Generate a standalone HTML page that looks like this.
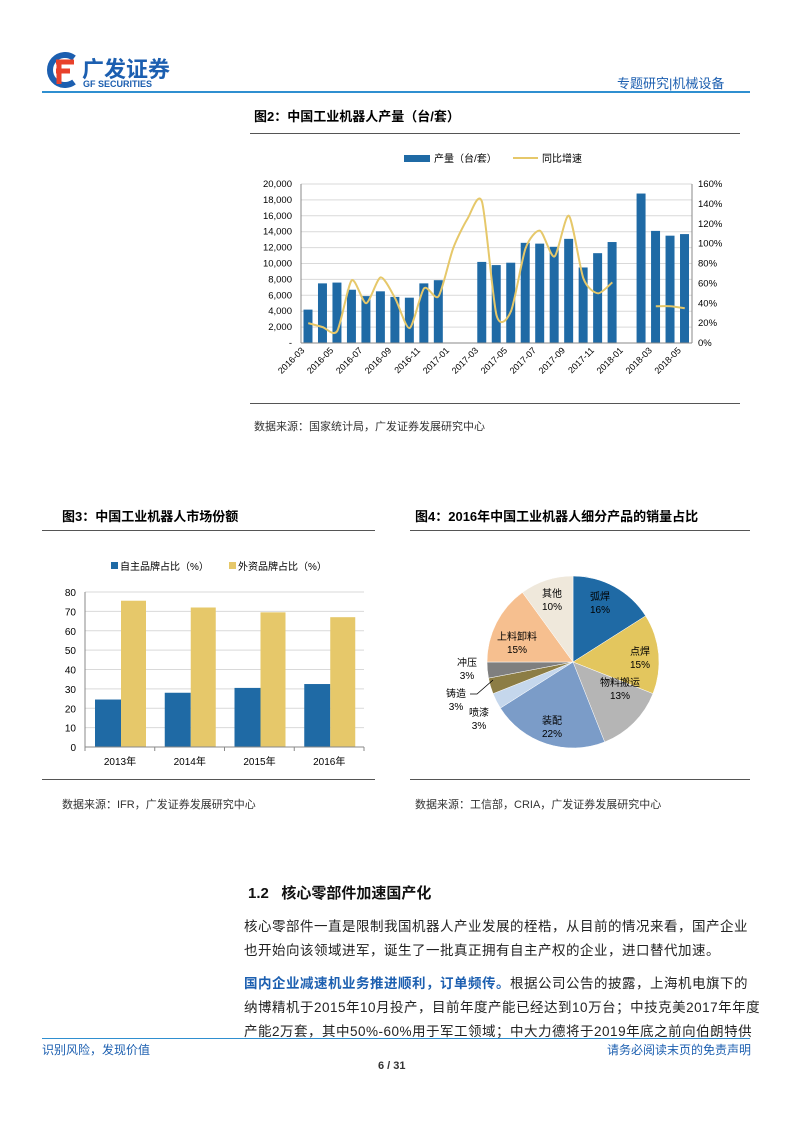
<!DOCTYPE html>
<html><head><meta charset="utf-8"><style>
body{margin:0;background:#fff;font-family:"Liberation Sans","Noto Sans CJK SC",sans-serif;}
#p{position:relative;width:793px;height:1122px;overflow:hidden;}
.a{position:absolute;white-space:nowrap;}
.t{font-weight:bold;font-size:13px;color:#000;}
.s{font-size:11px;color:#333;}
.b{font-size:13.5px;color:#222;letter-spacing:0.5px;}
</style></head><body><div id="p">
<svg class="a" style="left:44px;top:52px" width="36" height="36" viewBox="0 0 36 36">
<path d="M30 6 A15 15 0 1 0 30 30" stroke="#1c5fb0" stroke-width="6" fill="none"/>
<path d="M12 10 H30 M12 19 H26 M15 10 V32" stroke="#e8412b" stroke-width="5" fill="none"/></svg>
<div class="a" style="left:82px;top:52px;font-size:22px;font-weight:bold;color:#1c5fb0;">广发证券</div>
<div class="a" style="left:83px;top:79px;font-size:9px;font-weight:bold;color:#1c5fb0;">GF SECURITIES</div>
<div class="a" style="left:42px;top:91px;width:708px;height:1.5px;background:#2f8fd0"></div>
<div class="a" style="left:617px;top:73px;font-size:13px;color:#1c5fb0;">专题研究|机械设备</div>

<div class="a t" style="left:254px;top:106px">图2：中国工业机器人产量（台/套）</div>
<div class="a" style="left:250px;top:133px;width:490px;height:1px;background:#555"></div>
<div class="a" style="left:250px;top:403px;width:490px;height:1px;background:#555"></div>
<div class="a s" style="left:254px;top:418px">数据来源：国家统计局，广发证券发展研究中心</div>
<svg class="a" id="c1" style="left:0;top:0" width="793" height="420"></svg>

<div class="a t" style="left:62px;top:506px">图3：中国工业机器人市场份额</div>
<div class="a t" style="left:415px;top:506px">图4：2016年中国工业机器人细分产品的销量占比</div>
<div class="a" style="left:42px;top:530px;width:333px;height:1px;background:#555"></div>
<div class="a" style="left:410px;top:530px;width:340px;height:1px;background:#555"></div>
<div class="a" style="left:42px;top:779px;width:333px;height:1px;background:#555"></div>
<div class="a" style="left:410px;top:779px;width:340px;height:1px;background:#555"></div>
<div class="a s" style="left:62px;top:796px">数据来源：IFR，广发证券发展研究中心</div>
<div class="a s" style="left:415px;top:796px">数据来源：工信部，CRIA，广发证券发展研究中心</div>
<svg class="a" id="c2" style="left:0;top:540px" width="793" height="240"></svg>

<div class="a" style="left:248px;top:882px;font-size:15px;font-weight:bold;color:#111">1.2&nbsp;&nbsp;&nbsp;核心零部件加速国产化</div>
<div class="a b" style="left:244px;top:915px">核心零部件一直是限制我国机器人产业发展的桎梏，从目前的情况来看，国产企业</div>
<div class="a b" style="left:244px;top:939px">也开始向该领域进军，诞生了一批真正拥有自主产权的企业，进口替代加速。</div>
<div class="a b" style="left:244px;top:972px"><b style="color:#1c5fb0">国内企业减速机业务推进顺利，订单频传。</b>根据公司公告的披露，上海机电旗下的</div>
<div class="a b" style="left:244px;top:996px">纳博精机于2015年10月投产，目前年度产能已经达到10万台；中技克美2017年年度</div>
<div class="a b" style="left:244px;top:1020px">产能2万套，其中50%-60%用于军工领域；中大力德将于2019年底之前向伯朗特供</div>
<div class="a" style="left:42px;top:1038px;width:708px;height:1px;background:#2f8fd0"></div>
<div class="a" style="left:42px;top:1041px;font-size:12px;color:#1c5fb0;">识别风险，发现价值</div>
<div class="a" style="left:607px;top:1041px;font-size:12px;color:#1c5fb0;">请务必阅读末页的免责声明</div>
<div class="a" style="left:378px;top:1060px;font-size:11px;font-weight:bold;color:#333;">6 / 31</div>
<script>
var N='http://www.w3.org/2000/svg';
function el(s,t,a,tx){var e=document.createElementNS(N,t);for(var k in a)e.setAttribute(k,a[k]);if(tx!=null)e.textContent=tx;s.appendChild(e);return e;}
var c1=document.getElementById('c1');
var x0=301,x1=692,yt=184,yb=343,sw=(x1-x0)/27;
for(var i=0;i<=10;i++){var y=yb-(yb-yt)*i/10;el(c1,'line',{x1:x0,x2:x1,y1:y,y2:y,stroke:'#d9d9d9'});
el(c1,'text',{x:x0-9,y:y+3,'text-anchor':'end','font-size':'9.5',fill:'#000'},i==0?'-':(i*2000).toLocaleString('en-US'));}
for(var i=0;i<=8;i++){var y=yb-(yb-yt)*i/8;el(c1,'text',{x:x1+6,y:y+3,'font-size':'9.5',fill:'#000'},(i*20)+'%');}
var bv=[4200,7500,7600,6700,5900,6500,5800,5700,7500,7900,0,0,10200,9800,10100,12600,12500,12100,13100,9500,11300,12700,0,18800,14100,13500,13700];
bv.forEach(function(v,i){if(v)el(c1,'rect',{x:x0+i*sw+2.5,y:yb-v/20000*159,width:sw-5.5,height:v/20000*159,fill:'#1f6aa5'});});
el(c1,'line',{x1:x0,x2:x1,y1:yb,y2:yb,stroke:'#888'});
el(c1,'line',{x1:x0,x2:x0,y1:yt,y2:yb,stroke:'#888'});
el(c1,'line',{x1:x1,x2:x1,y1:yt,y2:yb,stroke:'#888'});
var lb=['2016-03','2016-05','2016-07','2016-09','2016-11','2017-01','2017-03','2017-05','2017-07','2017-09','2017-11','2018-01','2018-03','2018-05'];
lb.forEach(function(s,k){var x=x0+k*2*sw+4;el(c1,'text',{x:x,y:yb+8,'text-anchor':'end','font-size':'9',transform:'rotate(-45 '+x+' '+(yb+8)+')'},s);});
var lv=[20,16,12,63,40,66,45,15,55,47,95,125,142,28,32,95,113,87,128,65,50,61];
function P(a,off){return a.map(function(v,i){return [x0+(i+off+0.5)*sw,yb-v/160*159];});}
function smooth(p){var d='M'+p[0][0]+' '+p[0][1];for(var i=0;i<p.length-1;i++){var p0=p[i-1]||p[i],p1=p[i],p2=p[i+1],p3=p[i+2]||p2;
d+=' C'+(p1[0]+(p2[0]-p0[0])/8)+' '+(p1[1]+(p2[1]-p0[1])/8)+' '+(p2[0]-(p3[0]-p1[0])/8)+' '+(p2[1]-(p3[1]-p1[1])/8)+' '+p2[0]+' '+p2[1];}return d;}
el(c1,'path',{d:smooth(P(lv,0)),fill:'none',stroke:'#e6c86a','stroke-width':2});
el(c1,'path',{d:smooth(P([37,37,35],24)),fill:'none',stroke:'#e6c86a','stroke-width':2});
el(c1,'rect',{x:404,y:155,width:26,height:7,fill:'#1f6aa5'});
el(c1,'text',{x:434,y:162,'font-size':'10'},'产量（台/套）');
el(c1,'line',{x1:513,x2:538,y1:158,y2:158,stroke:'#e6c86a','stroke-width':2});
el(c1,'text',{x:542,y:162,'font-size':'10'},'同比增速');
var c2=document.getElementById('c2');var X0=85,X1=364,YT=52,YB=207;
for(var i=0;i<=8;i++){var y=YB-(YB-YT)*i/8;if(i)el(c2,'line',{x1:X0,x2:X1,y1:y,y2:y,stroke:'#d9d9d9'});
el(c2,'text',{x:X0-9,y:y+4,'text-anchor':'end','font-size':'10'},i*10);}
var A=[24.5,28,30.5,32.5],B=[75.5,72,69.5,67];
for(var k=0;k<4;k++){var gx=X0+k*69.75;
el(c2,'rect',{x:gx+10,y:YB-A[k]/80*155,width:26,height:A[k]/80*155,fill:'#1f6aa5'});
el(c2,'rect',{x:gx+36,y:YB-B[k]/80*155,width:25,height:B[k]/80*155,fill:'#e6c86a'});
el(c2,'text',{x:gx+35,y:YB+18,'text-anchor':'middle','font-size':'10'},(2013+k)+'年');
el(c2,'line',{x1:gx,x2:gx,y1:YB,y2:YB+4,stroke:'#888'});}
el(c2,'line',{x1:X1,x2:X1,y1:YB,y2:YB+4,stroke:'#888'});
el(c2,'line',{x1:X0,x2:X1,y1:YB,y2:YB,stroke:'#888'});
el(c2,'line',{x1:X0,x2:X0,y1:YT,y2:YB,stroke:'#888'});
el(c2,'rect',{x:111,y:22,width:7,height:7,fill:'#1f6aa5'});
el(c2,'text',{x:120,y:30,'font-size':'10'},'自主品牌占比（%）');
el(c2,'rect',{x:229,y:22,width:7,height:7,fill:'#e6c86a'});
el(c2,'text',{x:238,y:30,'font-size':'10'},'外资品牌占比（%）');
var cx=573,cy=122,r=86,vals=[16,15,13,22,3,3,3,15,10],cols=['#1f6aa5','#e3c65e','#b5b5b5','#7b9cc8','#c5d7ec','#8c7d45','#7f7f7f','#f6bf8f','#efe8db'];
var a=0;vals.forEach(function(v,i){var a1=a+v/100*2*Math.PI;
var p1=[cx+r*Math.sin(a),cy-r*Math.cos(a)],p2=[cx+r*Math.sin(a1),cy-r*Math.cos(a1)];
el(c2,'path',{d:'M'+cx+' '+cy+' L'+p1+' A'+r+' '+r+' 0 '+(v>50?1:0)+' 1 '+p2+' Z',fill:cols[i],stroke:'#fff','stroke-width':0.5});a=a1;});
var L=[[600,60,'弧焊','16%'],[640,115,'点焊','15%'],[620,146,'物料搬运','13%'],[552,184,'装配','22%'],[479,176,'喷漆','3%'],[456,157,'铸造','3%'],[467,126,'冲压','3%'],[517,100,'上料卸料','15%'],[552,57,'其他','10%']];
L.forEach(function(l){el(c2,'text',{x:l[0],y:l[1],'text-anchor':'middle','font-size':'10'},l[2]);el(c2,'text',{x:l[0],y:l[1]+13,'text-anchor':'middle','font-size':'10'},l[3]);});
el(c2,'polyline',{points:'470,154 477,154 493,140',fill:'none',stroke:'#000','stroke-width':0.8});
</script>
</div></body></html>
